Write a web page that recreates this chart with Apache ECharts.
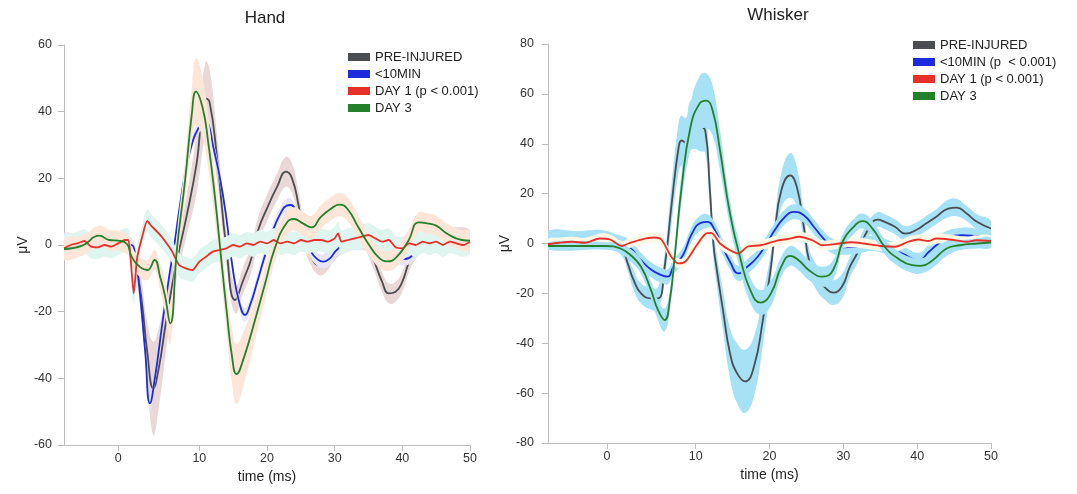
<!DOCTYPE html>
<html>
<head>
<meta charset="utf-8">
<script src="https://cdn.jsdelivr.net/npm/echarts@6/dist/echarts.min.js"></script>
<style>
    html, body { margin: 0; padding: 0; background: #fff; }
    #main { width: 1077px; height: 494px; }
</style>
</head>
<body>
<div id="main"></div>
<script>
// tick marks on the time axis (the "0" mark sits 2 ms left of a linear zero in the original)
var xTickPos = [-2, 10, 20, 30, 40, 50];
var xTickText = ["0", "10", "20", "30", "40", "50"];

var handNames = ["PRE-INJURED", "<10MIN", "DAY 1 (p < 0.001)", "DAY 3"];
var whiskerNames = ["PRE-INJURED", "<10MIN (p  < 0.001)", "DAY 1 (p < 0.001)", "DAY 3"];

// ---- Hand ----
var handPreT = [-10, -8, -6, -4, -2, 0, 0.7, 1.5, 2.3, 3.2, 4, 5, 6, 6.7, 8.1, 9.6, 10.9, 11.5, 12.6, 14, 15.3, 16.5, 17.7, 18.7, 20, 21.5, 22.8, 23.7, 24.7, 25.5, 26.5, 27.6, 28.6, 30, 31.5, 33, 34.3, 35.5, 37, 38, 39, 40, 41, 42, 43, 44, 45, 47, 50];
var handPreV = [1, 0.5, 1, 0.5, 0.5, -1, -6.5, -17, -32, -43, -37, -24, -12, -4.5, 8.5, 24.5, 44, 43, 26.5, -1, -16.5, -10.5, -4, 4.5, 11, 17.5, 22, 20, 11.5, 3, -3, -6, -5.5, -1.5, 1, 2.5, 2, -3, -11, -14.5, -14, -11, -5, -1, 2.5, 4.5, 4, 2.5, 1.5];
var handPreW = [2.5, 2.5, 2.5, 2.5, 2.5, 2.5, 4, 6, 9, 14, 12, 9, 6, 5, 6, 9, 11, 10, 7, 5, 4, 4, 4, 4, 4, 4, 4.5, 4.5, 4, 3.5, 3, 3, 3, 3, 3, 3, 3, 3, 3, 3, 3, 3, 3, 3, 3, 3, 3, 3, 3];

var handB10T = [-10, -8, -6, -4, -2, 0, 0.5, 1, 2, 2.7, 3.5, 4.5, 5.5, 6.3, 7, 8, 9, 9.85, 10.6, 11.3, 12, 13.1, 14, 15, 16, 16.75, 17.5, 18.5, 19.5, 20.9, 22, 22.9, 23.5, 24.5, 25.5, 26.5, 27.3, 28.3, 29.3, 30.3, 31.5, 34, 36, 38, 40.4, 42, 44, 46, 48, 50];
var handB10V = [1.5, 1, 0.5, 0.5, 0.5, 0, -3, -10, -32, -47.5, -39, -24, -10, 0, 10, 22.5, 31, 35, 37.5, 36.5, 30, 19.5, 8, -8, -18, -21, -18, -11.5, -4.5, 4.5, 9.5, 11.8, 12, 8.5, 2.5, -2, -4, -5, -4, -1.5, 0, 0.5, -1, -2.5, -4.2, -2, 2, 1.5, 1, 0.5];
var handB10W = 2;

var handD1T = [-10, -9, -8, -7, -6, -5, -4, -3, -2, -1, -0.5, -0.2, 0.3, 0.8, 1.5, 2.3, 3, 4, 5, 6, 7, 8, 9, 10, 11, 12, 13, 14, 15, 16, 17, 18, 19, 20, 21, 22, 23, 24, 25, 26, 27, 28, 29, 30, 30.5, 31, 32, 33, 34, 35, 36, 37, 38, 39, 40, 41, 42, 43, 44, 45, 46, 47, 48, 49, 50];
var handD1V = [-1, 0, 0.5, 1.2, -0.5, -0.7, 0, -0.5, 0.5, 1.5, 1.5, -3, -14.5, -4, 2, 7.2, 5.5, 3.5, 1, -2, -6, -7, -7.5, -5, -3.5, -2, -1.5, -1, 0, -0.5, 0.5, 0, 1, 0.5, 1.5, 0.5, 1, 0.5, 1.5, 1, 1.5, 1.5, 1, 2, 3.5, 1, 1.5, 2, 2.5, 3, 2, 1, 1.5, -0.7, -1, 0.5, 0, 1, 0.5, 1, 0, 1, 0.5, 0, 1];
var handD1W = 3.5;

var handD3T = [-10, -7.3, -4.8, -3.3, -2, -0.7, 0, 1.3, 2.35, 3.4, 4.2, 4.9, 5.7, 6.7, 7.9, 8.9, 9.5, 10.5, 11.3, 12.3, 13.2, 14.1, 14.8, 15.5, 16.6, 18.2, 19.7, 21.2, 22.8, 24, 25.3, 26.6, 27.9, 29.4, 30.7, 31.9, 33.5, 35, 36.5, 37.8, 39.1, 40.9, 42.4, 43.7, 45, 46.7, 48.8, 50];
var handD3V = [-1.2, -0.2, 2.8, 1.5, 1.3, 0.3, -3.5, -6.7, -7.5, -4.5, -9.5, -15, -23.5, -1, 19.5, 39.5, 46, 41, 31, 14.5, -3.5, -21, -33, -38.7, -33.7, -22.7, -11.7, -0.7, 6.3, 7.8, 6.5, 5.3, 8.3, 10.8, 12.1, 10.8, 5.3, 0.3, -3.7, -4.9, -3.7, 1.3, 6.8, 6.5, 5.8, 3.3, 1.5, 1.3];
var handD3W = [3, 3, 3, 3, 3, 3, 3, 3, 3, 3, 4, 5, 6, 5, 6, 8, 10, 9, 8, 7, 6, 7, 8, 9, 8, 6, 5, 4, 3.5, 3.5, 3.5, 3.5, 3.5, 3.5, 3.5, 3.5, 3.5, 3, 3, 3, 3, 3, 3, 3, 3, 3, 3, 3];

// ---- Whisker ----
var whiskPreT = [-10, -6, -2, 0, 0.8, 1.6, 2.6, 3.95, 4.9, 5.8, 6.7, 7.7, 8.1, 8.7, 9.2, 9.8, 10.6, 11.3, 11.9, 12.4, 12.8, 13.7, 14.65, 15.6, 16.7, 17.9, 19.1, 20.2, 20.7, 21.6, 22.8, 23.7, 24.65, 25.35, 26.3, 27.4, 28.6, 29.8, 30.9, 32.1, 33.3, 34.65, 35.6, 37, 38.4, 39.8, 41.2, 42.6, 44.2, 45.35, 46.7, 48.1, 50];
var whiskPreV = [2.5, 2.5, 2.5, -2, -8, -14.7, -20, -22, -22, -9.3, 14.7, 38.7, 41.3, 40.3, 46.7, 48, 47, 45.3, 22.7, 0, -9.3, -26.7, -44, -52, -55.3, -49.3, -30.7, -9.3, 4, 21.3, 27.3, 22.7, 6.7, -6.7, -13.3, -17.3, -19.7, -17.3, -9.3, -2.7, 5.3, 9.6, 8.7, 6.7, 4, 5.3, 8, 10.7, 14, 14.4, 12, 8.7, 6];
var whiskPreW = [2.5, 2.5, 2.5, 3, 3, 4, 4, 4.5, 4.5, 5, 8, 10, 10, 10, 10, 10, 10, 9, 8, 6, 6, 8, 10, 12, 12.7, 12, 10, 6, 5, 7, 9, 8, 6, 5, 5, 5, 5, 5, 4, 4, 3, 3, 3, 3, 3, 3, 3, 3, 3.5, 3.5, 3, 3, 3];

var whiskB10T = [-10, -6, -2, 0, 1.2, 2.6, 3.95, 5.35, 6.2, 7, 7.7, 8.4, 9.5, 10.7, 11.6, 12.6, 13.6, 14.65, 15.8, 17, 18.4, 19.6, 20.7, 22.1, 23.3, 24.65, 26, 27.2, 28.5, 30, 32, 34, 36, 38, 40.2, 41.6, 42.6, 44, 46, 48, 50];
var whiskB10V = [1, 1, 1, 0, -2, -6.7, -10.4, -12.7, -13.3, -9.3, -7, -4, 4, 8.3, 8.7, 5.3, -1, -7.3, -12, -9.3, -5.3, 0, 5.3, 10.7, 12.7, 11.3, 6.7, 2.4, -1, -1.5, -1, 0, -1.5, -4, -6.7, -3.3, -0.7, 2, 3.3, 3, 2.5];
var whiskB10W = 3;

var whiskD1T = [-10, -8.5, -6.7, -5, -3, -1.6, 0, 0.9, 2.6, 4.4, 5.35, 6.7, 7.7, 8.6, 10, 11.4, 12.1, 13.3, 14.65, 15.8, 17, 18.8, 21.2, 22.5, 24, 25.8, 27.2, 29.5, 31, 32.8, 35.1, 37, 38.8, 40.2, 41.5, 42.6, 44.4, 46.7, 48, 50];
var whiskD1V = [-0.3, 0.3, 0.7, 0.3, 2, 1.6, -1, 0, 1.6, 2.4, 1.6, -5.3, -8, -7.3, -1.3, 4, 4.3, 0, -2.7, -4, -1.3, -0.7, 1.3, 1.8, 2.7, 1.3, -0.7, 0, 0.5, 0, -1, -1.3, 0.7, 1.6, 1, 2, 1.6, 0.7, 1.3, 1];
var whiskD1W = 2;

var whiskD3T = [-10, -2.1, -0.2, 1.2, 2.6, 3.95, 4.9, 5.8, 6.5, 7.2, 8.1, 9.3, 10.5, 11.4, 12.3, 13.3, 14.65, 16, 17.4, 18.8, 20.2, 21.6, 22.8, 23.95, 25.35, 27.2, 28.6, 30, 31.4, 32.55, 33.95, 35.6, 37.4, 39.3, 40.5, 42.1, 44, 45.8, 48.1, 50];
var whiskD3V = [-1, -1, -2, -4.7, -9.3, -18.7, -26.7, -30.7, -22.7, -4, 22.7, 46.7, 56, 57.3, 53.3, 37.3, 12, -5.3, -18.7, -23.7, -20, -9.3, -5, -6.7, -10.7, -13.3, -10.7, 1.3, 6.7, 9, 6, -1.3, -6, -8.7, -9, -6.7, -2, -0.7, 0, 0.4];
var whiskD3W = [1.5, 1.5, 2, 2.5, 3, 3.5, 4, 4.6, 4, 4, 6, 9, 11, 11, 10, 8, 5, 5, 5, 5, 5, 4, 4, 4, 4, 4, 4, 3, 3, 3, 3, 3, 3, 3, 3, 3, 3, 2, 2, 2];

var lineColors = ["#4a4d52", "#1c2cdc", "#e8302a", "#23812b"];
var handBandColors = ["#ead7d7", "#e6e6f7", "#dff5f0", "#fde6d8"];
var whiskBandColors = ["#a6e1f5", "#a6e1f5", "#fbf9e6", "#a6e1f5"];

var fontFamily = "Liberation Sans, Arial, Helvetica, sans-serif";

function widthAt(w, i) {
    return typeof w === "number" ? w : w[i];
}

// shaded band: one polygon through the upper edge and back along the lower edge
function bandSeries(idx, t, v, w, bandColor, z) {
    var rows = [];
    for (var i = 0; i < t.length; i++) {
        var d = widthAt(w, i);
        rows.push([t[i], v[i] - d, v[i] + d]);
    }
    return {
        type: "custom",
        xAxisIndex: idx,
        yAxisIndex: idx,
        z: z,
        silent: true,
        clip: true,
        animation: false,
        encode: { x: 0, y: [1, 2] },
        data: rows,
        renderItem: function (params, api) {
            if (params.dataIndex !== 0) {
                return null;
            }
            var upper = [], lower = [];
            for (var k = 0; k < rows.length; k++) {
                upper.push(api.coord([rows[k][0], rows[k][2]]));
                lower.unshift(api.coord([rows[k][0], rows[k][1]]));
            }
            return {
                type: "polygon",
                shape: { points: upper.concat(lower), smooth: 0.45 },
                style: { fill: bandColor, stroke: null },
            };
        },
    };
}

function lineSeries(idx, name, t, v, color, z, smooth) {
    var pts = [];
    for (var i = 0; i < t.length; i++) {
        pts.push([t[i], v[i]]);
    }
    return {
        type: "line",
        name: name,
        xAxisIndex: idx,
        yAxisIndex: idx,
        z: z,
        symbol: "none",
        smooth: smooth,
        silent: true,
        animation: false,
        color: color,
        itemStyle: { color: color },
        lineStyle: { color: color, width: 1.8 },
        data: pts,
    };
}

function xAxisOpt(idx) {
    return {
        type: "value",
        gridIndex: idx,
        min: -10,
        max: 50,
        name: "time (ms)",
        nameLocation: "middle",
        nameGap: 25,
        nameTextStyle: { fontSize: 14, color: "#222", fontFamily: fontFamily },
        axisLine: { show: true, onZero: false, lineStyle: { color: "#bdbdbd", width: 1 } },
        axisTick: { show: true, customValues: xTickPos, length: 6, lineStyle: { color: "#bdbdbd" } },
        axisLabel: {
            customValues: xTickPos,
            margin: 7,
            fontSize: 12.5,
            color: "#333",
            fontFamily: fontFamily,
            formatter: function (val) {
                var k = xTickPos.indexOf(val);
                return k >= 0 ? xTickText[k] : "";
            },
        },
        splitLine: { show: false },
    };
}

function yAxisOpt(idx, lo, hi, gap, margin) {
    return {
        type: "value",
        gridIndex: idx,
        min: lo,
        max: hi,
        interval: 20,
        name: "μV",
        nameLocation: "middle",
        nameGap: gap,
        nameTextStyle: { fontSize: 14, color: "#222", fontFamily: fontFamily },
        axisLine: { show: true, onZero: false, lineStyle: { color: "#bdbdbd", width: 1 } },
        axisTick: { show: true, length: 6, lineStyle: { color: "#bdbdbd" } },
        axisLabel: { margin: margin, fontSize: 12.5, color: "#333", fontFamily: fontFamily },
        splitLine: { show: false },
    };
}

function legendOpt(left, top, names) {
    return {
        orient: "vertical",
        left: left,
        top: top,
        padding: 0,
        icon: "rect",
        itemWidth: 22,
        itemHeight: 8,
        itemGap: 3,
        selectedMode: false,
        textStyle: { fontSize: 13, color: "#222", lineHeight: 14, fontFamily: fontFamily },
        data: names,
    };
}

function chart() {
    var myChart = echarts.init(document.getElementById("main"));

    // draw order: band, line for each trace; the DAY 1 line sits above the DAY 3 band
    var series = [
        bandSeries(0, handPreT, handPreV, handPreW, handBandColors[0], 2),
        lineSeries(0, handNames[0], handPreT, handPreV, lineColors[0], 3, 0.5),
        bandSeries(0, handB10T, handB10V, handB10W, handBandColors[1], 4),
        lineSeries(0, handNames[1], handB10T, handB10V, lineColors[1], 5, 0.5),
        bandSeries(0, handD1T, handD1V, handD1W, handBandColors[2], 6),
        bandSeries(0, handD3T, handD3V, handD3W, handBandColors[3], 7),
        lineSeries(0, handNames[2], handD1T, handD1V, lineColors[2], 8, 0.2),
        lineSeries(0, handNames[3], handD3T, handD3V, lineColors[3], 9, 0.5),

        bandSeries(1, whiskPreT, whiskPreV, whiskPreW, whiskBandColors[0], 2),
        lineSeries(1, whiskerNames[0], whiskPreT, whiskPreV, lineColors[0], 3, 0.5),
        bandSeries(1, whiskB10T, whiskB10V, whiskB10W, whiskBandColors[1], 4),
        lineSeries(1, whiskerNames[1], whiskB10T, whiskB10V, lineColors[1], 5, 0.5),
        bandSeries(1, whiskD1T, whiskD1V, whiskD1W, whiskBandColors[2], 6),
        bandSeries(1, whiskD3T, whiskD3V, whiskD3W, whiskBandColors[3], 7),
        lineSeries(1, whiskerNames[2], whiskD1T, whiskD1V, lineColors[2], 8, 0.3),
        lineSeries(1, whiskerNames[3], whiskD3T, whiskD3V, lineColors[3], 9, 0.5),
    ];

    var option = {
        backgroundColor: "#ffffff",
        animation: false,
        title: [
            {
                text: "Hand",
                left: 265,
                top: 10,
                padding: 0,
                textAlign: "center",
                textStyle: { fontSize: 17, fontWeight: "normal", color: "#222", fontFamily: fontFamily },
            },
            {
                text: "Whisker",
                left: 778,
                top: 7,
                padding: 0,
                textAlign: "center",
                textStyle: { fontSize: 17, fontWeight: "normal", color: "#222", fontFamily: fontFamily },
            },
        ],
        legend: [
            legendOpt(348, 50, handNames),
            legendOpt(913, 38, whiskerNames),
        ],
        grid: [
            { left: 64, top: 45, width: 406, height: 400 },
            { left: 548, top: 44, width: 443, height: 399 },
        ],
        xAxis: [xAxisOpt(0), xAxisOpt(1)],
        yAxis: [yAxisOpt(0, -60, 60, 32, 12), yAxisOpt(1, -80, 80, 34, 14)],
        series: series,
    };

    myChart.setOption(option);
    window.addEventListener("resize", function () {
        myChart.resize();
    });
}

chart();
</script>
</body>
</html>
